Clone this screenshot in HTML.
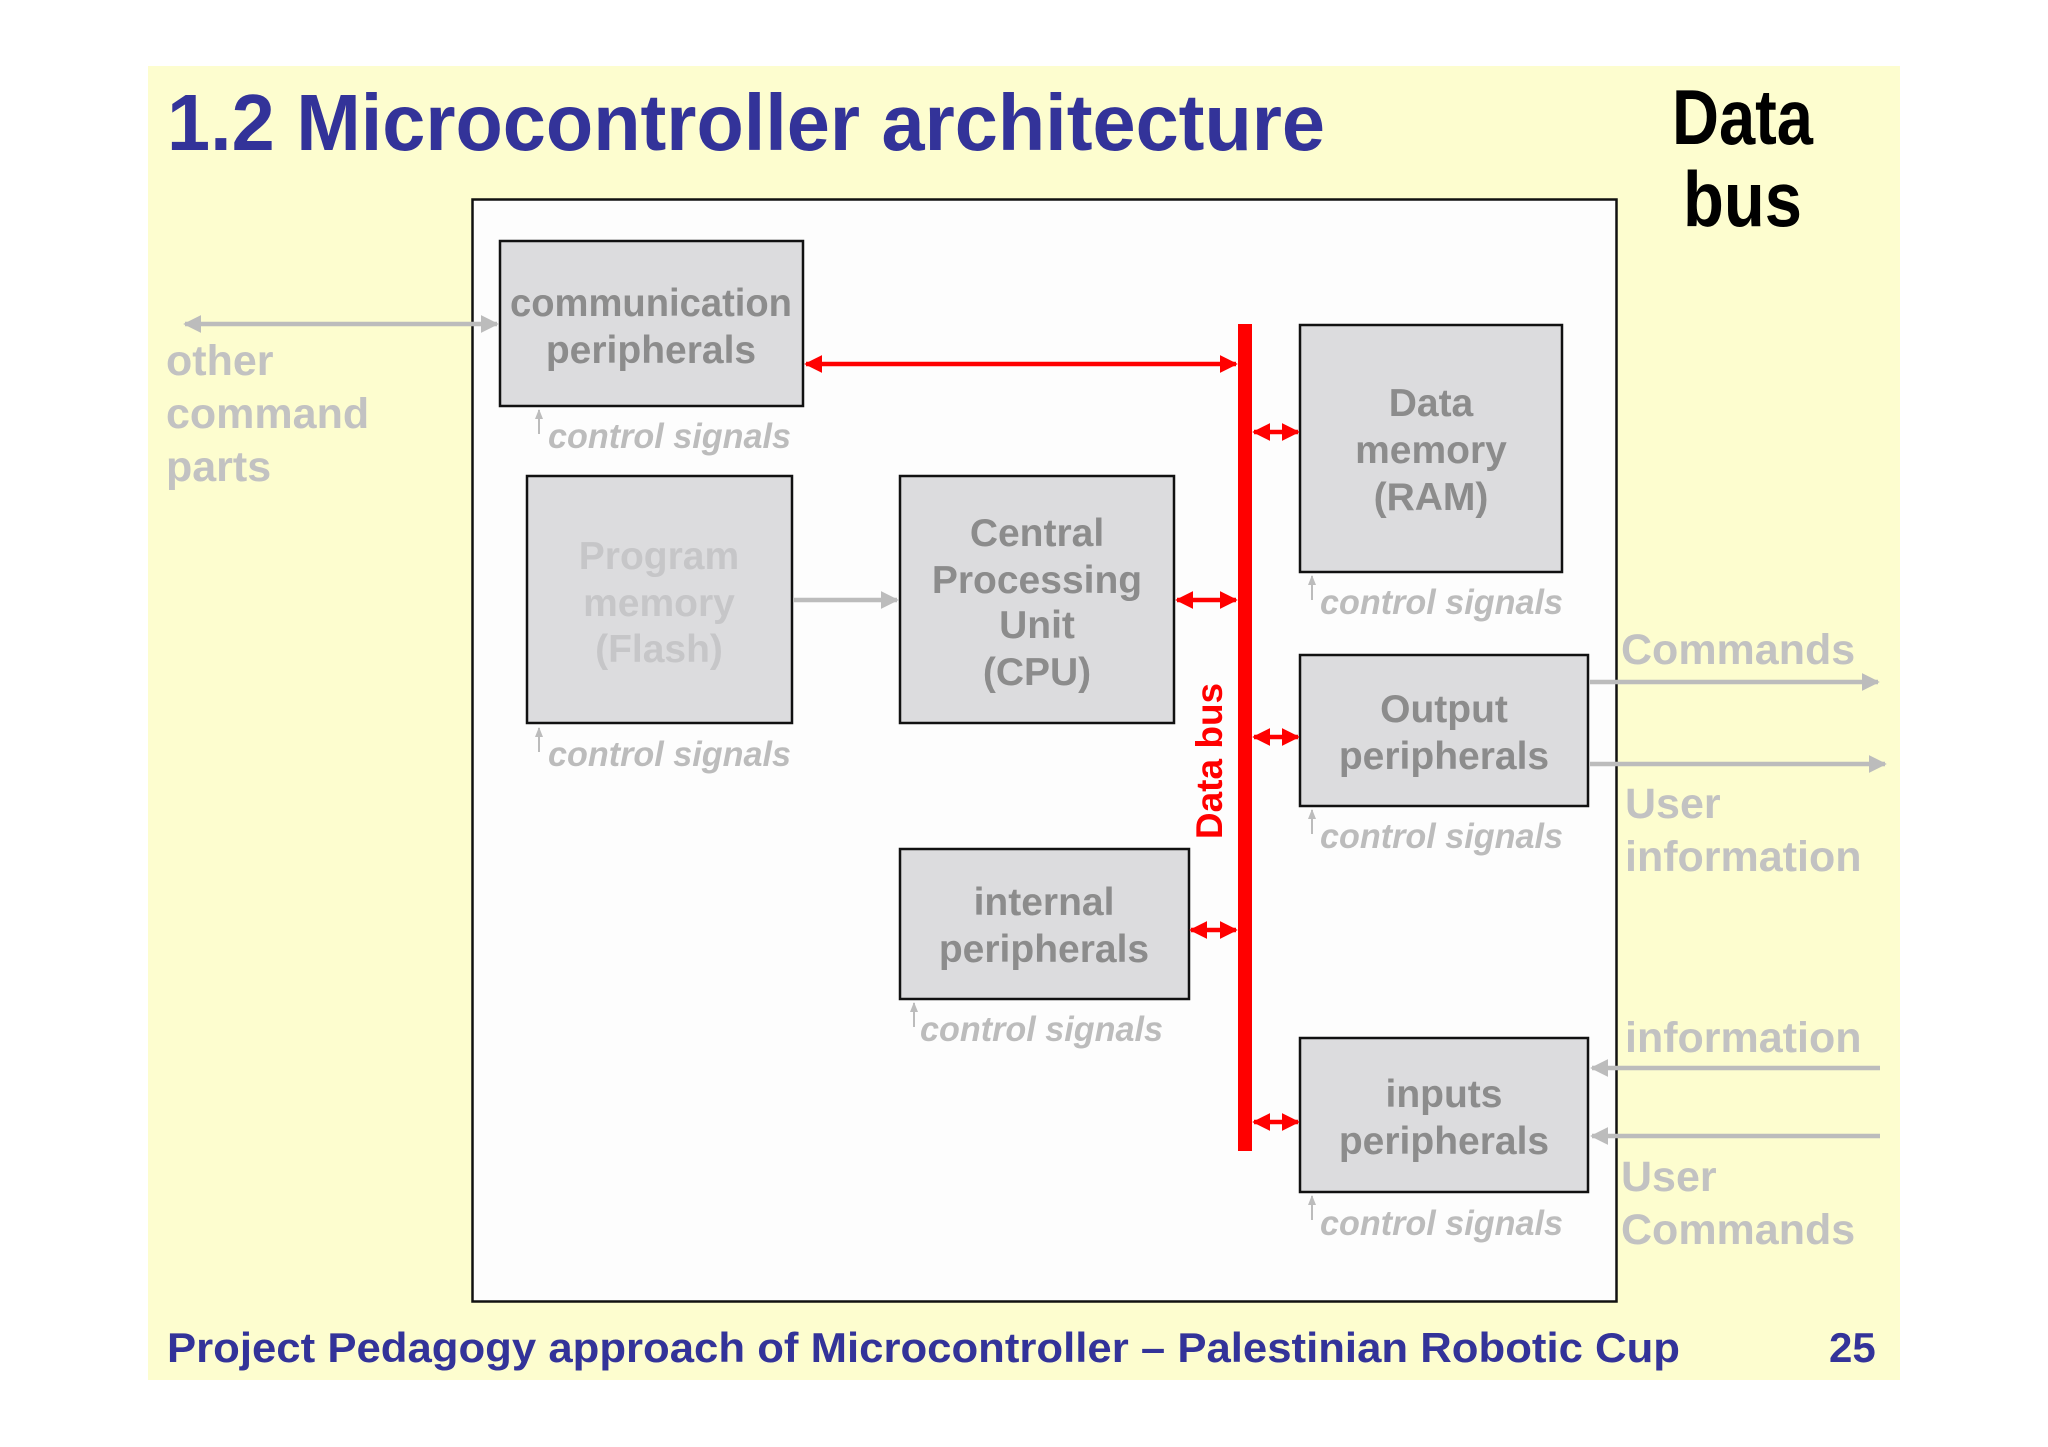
<!DOCTYPE html>
<html><head><meta charset="utf-8"><style>
html,body{margin:0;padding:0;background:#fff;width:2048px;height:1447px;overflow:hidden}
svg{display:block}
text{font-family:"Liberation Sans",Arial,sans-serif;font-weight:bold}
</style></head><body>
<svg width="2048" height="1447" viewBox="0 0 2048 1447" xmlns="http://www.w3.org/2000/svg">
<defs>
<marker id="rh" viewBox="0 0 10 10" refX="9" refY="5" markerWidth="4" markerHeight="4" orient="auto-start-reverse"><path d="M0,0 L10,5 L0,10 z" fill="#f00"/></marker>
<marker id="gh" viewBox="0 0 10 10" refX="9" refY="5" markerWidth="4" markerHeight="4" orient="auto-start-reverse"><path d="M0,0 L10,5 L0,10 z" fill="#bcbcbc"/></marker>
<marker id="gs" viewBox="0 0 10 10" refX="9" refY="5" markerWidth="5" markerHeight="5" orient="auto-start-reverse"><path d="M0,1 L10,5 L0,9 z" fill="#bcbcbc"/></marker>
</defs>
<rect x="148" y="66" width="1752" height="1314" fill="#fdfdcf"/>
<text x="167" y="150" font-size="80" fill="#333399" textLength="1158" lengthAdjust="spacingAndGlyphs">1.2 Microcontroller architecture</text>
<text x="1672" y="144" font-size="78" fill="#000" textLength="141" lengthAdjust="spacingAndGlyphs">Data</text>
<text x="1683" y="226" font-size="78" fill="#000" textLength="119" lengthAdjust="spacingAndGlyphs">bus</text>
<rect x="472.5" y="199.5" width="1144" height="1102" fill="#fdfdfd" stroke="#111" stroke-width="2.5"/>

<g stroke="#111" stroke-width="2.5" fill="#dcdcde">
<rect x="500" y="241" width="303" height="165"/>
<rect x="527" y="476" width="265" height="247"/>
<rect x="900" y="476" width="274" height="247"/>
<rect x="1300" y="325" width="262" height="247"/>
<rect x="1300" y="655" width="288" height="151"/>
<rect x="900" y="849" width="289" height="150"/>
<rect x="1300" y="1038" width="288" height="154"/>
</g>

<g font-size="39" fill="#8c8c8c" text-anchor="middle">
<text x="651" y="316" textLength="282" lengthAdjust="spacingAndGlyphs">communication</text>
<text x="651" y="363">peripherals</text>
<text x="659" y="569" fill="#c6c6c8">Program</text>
<text x="659" y="616" fill="#c6c6c8">memory</text>
<text x="659" y="662" fill="#c6c6c8">(Flash)</text>
<text x="1037" y="546">Central</text>
<text x="1037" y="593">Processing</text>
<text x="1037" y="638">Unit</text>
<text x="1037" y="685">(CPU)</text>
<text x="1431" y="416">Data</text>
<text x="1431" y="463">memory</text>
<text x="1431" y="510">(RAM)</text>
<text x="1444" y="722">Output</text>
<text x="1444" y="769">peripherals</text>
<text x="1044" y="915">internal</text>
<text x="1044" y="962">peripherals</text>
<text x="1444" y="1107">inputs</text>
<text x="1444" y="1154">peripherals</text>
</g>

<rect x="1238" y="324" width="14" height="827" fill="#f00"/>
<g stroke="#f00" stroke-width="4.5" fill="none">
<line x1="806" y1="364" x2="1236" y2="364" marker-start="url(#rh)" marker-end="url(#rh)"/>
<line x1="1254" y1="432" x2="1298" y2="432" marker-start="url(#rh)" marker-end="url(#rh)"/>
<line x1="1177" y1="600" x2="1236" y2="600" marker-start="url(#rh)" marker-end="url(#rh)"/>
<line x1="1254" y1="737" x2="1298" y2="737" marker-start="url(#rh)" marker-end="url(#rh)"/>
<line x1="1191" y1="930" x2="1236" y2="930" marker-start="url(#rh)" marker-end="url(#rh)"/>
<line x1="1254" y1="1122" x2="1298" y2="1122" marker-start="url(#rh)" marker-end="url(#rh)"/>
</g>
<text transform="translate(1222,761) rotate(-90)" font-size="37" fill="#f00" text-anchor="middle">Data bus</text>

<g stroke="#bcbcbc" stroke-width="4.5" fill="none">
<line x1="185" y1="324" x2="497" y2="324" marker-start="url(#gh)" marker-end="url(#gh)"/>
<line x1="794" y1="600" x2="897" y2="600" marker-end="url(#gh)"/>
<line x1="1590" y1="682" x2="1878" y2="682" marker-end="url(#gh)"/>
<line x1="1590" y1="764" x2="1885" y2="764" marker-end="url(#gh)"/>
<line x1="1880" y1="1068" x2="1592" y2="1068" marker-end="url(#gh)"/>
<line x1="1880" y1="1136" x2="1592" y2="1136" marker-end="url(#gh)"/>
</g>
<g stroke="#bcbcbc" stroke-width="2" fill="none">
<line x1="539" y1="434" x2="539" y2="410" marker-end="url(#gs)"/>
<line x1="539" y1="752" x2="539" y2="728" marker-end="url(#gs)"/>
<line x1="1312" y1="600" x2="1312" y2="576" marker-end="url(#gs)"/>
<line x1="1312" y1="834" x2="1312" y2="810" marker-end="url(#gs)"/>
<line x1="914" y1="1027" x2="914" y2="1003" marker-end="url(#gs)"/>
<line x1="1312" y1="1220" x2="1312" y2="1196" marker-end="url(#gs)"/>
</g>
<g font-size="35" fill="#bcbcbc" font-style="italic" font-weight="normal">
<text x="548" y="448" textLength="243" lengthAdjust="spacingAndGlyphs">control signals</text>
<text x="548" y="766" textLength="243" lengthAdjust="spacingAndGlyphs">control signals</text>
<text x="1320" y="614" textLength="243" lengthAdjust="spacingAndGlyphs">control signals</text>
<text x="1320" y="848" textLength="243" lengthAdjust="spacingAndGlyphs">control signals</text>
<text x="920" y="1041" textLength="243" lengthAdjust="spacingAndGlyphs">control signals</text>
<text x="1320" y="1235" textLength="243" lengthAdjust="spacingAndGlyphs">control signals</text>
</g>

<g font-size="43" fill="#c2c2c2">
<text x="166" y="375">other</text>
<text x="166" y="428">command</text>
<text x="166" y="481">parts</text>
<text x="1621" y="664">Commands</text>
<text x="1625" y="818">User</text>
<text x="1625" y="871">information</text>
<text x="1625" y="1052">information</text>
<text x="1621" y="1191">User</text>
<text x="1621" y="1244">Commands</text>
</g>

<text x="167" y="1362" font-size="42" fill="#333399" textLength="1513" lengthAdjust="spacingAndGlyphs">Project Pedagogy approach of Microcontroller – Palestinian Robotic Cup</text>
<text x="1829" y="1362" font-size="42" fill="#333399">25</text>
</svg>
</body></html>
